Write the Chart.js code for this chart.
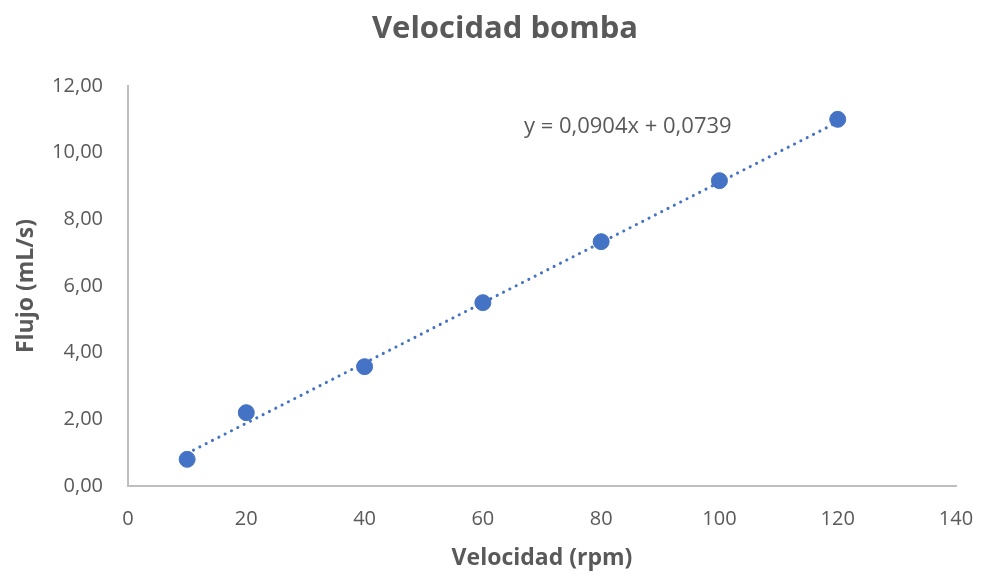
<!DOCTYPE html>
<html>
<head>
<meta charset="utf-8">
<script src="https://cdn.jsdelivr.net/npm/chart.js@4"></script>
<style>
  html, body { margin: 0; padding: 0; background: #fff; }
  #wrap { position: relative; width: 981px; height: 578px; }
</style>
</head>
<body>
<div id="wrap"><canvas id="chart"></canvas></div>
<script>
// Data
const speedRpm = [10, 20, 40, 60, 80, 100, 120];
const flowMls = [0.80, 2.20, 3.58, 5.50, 7.33, 9.16, 11.00];

// Linear trendline, endpoints as drawn (x = 10 .. 120)
const trendX = [10, 120];
const trendY = [0.98, 10.92];
const trendLabel = "y = 0,0904x + 0,0739";
const trendLabelAt = { x: 84.5, y: 10.77 };

const chartTitle = "Velocidad bomba";

const TEXT = "#595959";
const BLUE = "#4472C4";
const FONT = "'Open Sans', 'Noto Sans', sans-serif";

const fmtComma = (v) => v.toFixed(2).replace(".", ",");

// title sits a bit right of the canvas centre in the original, so draw it by hand
const titleAndEquation = {
  id: "titleAndEquation",
  afterDraw(chart) {
    const { ctx, scales } = chart;
    ctx.save();
    ctx.textAlign = "center";
    ctx.textBaseline = "middle";
    ctx.fillStyle = TEXT;
    ctx.font = "bold 31px " + FONT;
    ctx.fillText(chartTitle, 505, 29);
    ctx.font = "22px " + FONT;
    ctx.fillText(trendLabel, scales.x.getPixelForValue(trendLabelAt.x), scales.y.getPixelForValue(trendLabelAt.y));
    ctx.restore();
  },
};

new Chart(document.getElementById("chart"), {
  type: "scatter",
  data: {
    datasets: [
      {
        label: "Flujo",
        data: speedRpm.map((x, i) => ({ x: x, y: flowMls[i] })),
        backgroundColor: BLUE,
        borderColor: BLUE,
        pointRadius: 8,
        pointHoverRadius: 8,
        order: 1,
      },
      {
        label: "Lineal",
        type: "line",
        data: trendX.map((x, i) => ({ x: x, y: trendY[i] })),
        borderColor: BLUE,
        borderWidth: 3,
        borderDash: [0.1, 7],
        borderCapStyle: "round",
        pointRadius: 0,
        fill: false,
        order: 2,
      },
    ],
  },
  options: {
    responsive: true,
    maintainAspectRatio: false,
    animation: false,
    layout: { padding: { left: 0, right: 25, top: 86, bottom: 0 } },
    plugins: {
      legend: { display: false },
      tooltip: { enabled: false },
      title: { display: false },
    },
    scales: {
      x: {
        type: "linear",
        min: 0,
        max: 140,
        ticks: { stepSize: 20, color: TEXT, font: { family: FONT, size: 20 }, padding: 21 },
        grid: { display: false, drawTicks: false },
        border: { color: "#bfbfbf", width: 2 },
        title: {
          display: true,
          text: "Velocidad (rpm)",
          color: TEXT,
          font: { family: FONT, size: 23, weight: "bold" },
          padding: { top: 0, bottom: 6 },
        },
        afterFit: (s) => {
          s.height = 92;
          s.paddingLeft = 0;
          s.paddingRight = 0;
        },
      },
      y: {
        min: 0,
        max: 12,
        ticks: { stepSize: 2, color: TEXT, font: { family: FONT, size: 20 }, padding: 25, callback: (v) => fmtComma(v) },
        grid: { display: false, drawTicks: false },
        border: { color: "#bfbfbf", width: 2 },
        title: {
          display: true,
          text: "Flujo (mL/s)",
          color: TEXT,
          font: { family: FONT, size: 23, weight: "bold" },
          padding: { top: 13, bottom: 0 },
        },
        afterFit: (s) => {
          s.width = 128;
          s.paddingTop = 0;
          s.paddingBottom = 0;
        },
      },
    },
  },
  plugins: [titleAndEquation],
});
</script>
</body>
</html>
